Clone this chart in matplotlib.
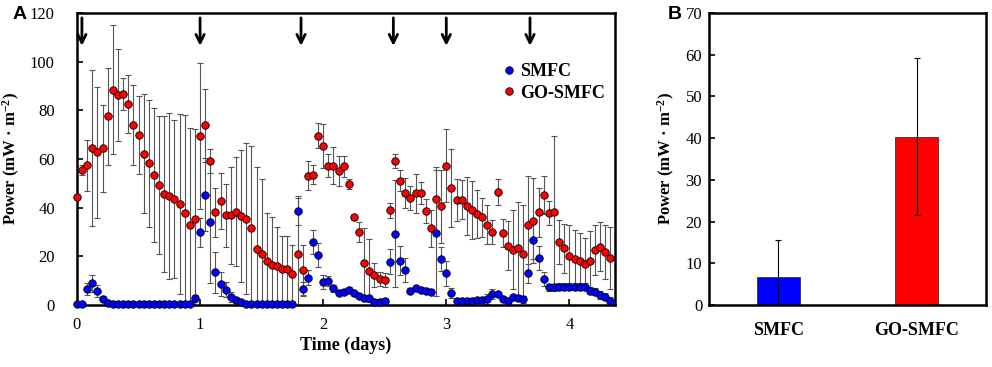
import numpy as np
import matplotlib
matplotlib.use('Agg')
import matplotlib.pyplot as plt

plt.rcParams['font.family'] = 'Liberation Serif'
plt.rcParams['mathtext.fontset'] = 'custom'
plt.rcParams['mathtext.rm'] = 'Liberation Serif:bold'
plt.rcParams['mathtext.bf'] = 'Liberation Serif:bold'
plt.rcParams['mathtext.default'] = 'bf'

# hourly readings, time in hours from start
go_smfc = [44.5, 55.5, 57.5, 64.4, 62.7, 64.4, 77.5, 88.5, 86.3, 86.6,
           82.6, 74.0, 70.0, 62.2, 58.2, 53.4, 49.3, 45.5, 44.7, 43.6,
           41.6, 38.0, 32.7, 35.4, 69.4, 73.8, 59.2, 38.1, 42.7, 36.8,
           36.8, 38.4, 36.5, 35.5, 31.8, 23.1, 20.8, 18.0, 16.3, 16.2,
           14.8, 14.8, 12.6, 21.0, 14.3, 53.2, 53.6, 69.6, 65.5, 57.3,
           57.3, 55.1, 57.0, 49.7, 36.0, 29.9, 17.1, 14.1, 12.3, 10.7,
           10.3, 38.9, 59.2, 51.1, 46.0, 44.0, 45.9, 46.0, 38.6, 31.5,
           43.6, 40.6, 57.3, 48.0, 43.2, 43.2, 40.8, 39.0, 37.4, 36.0,
           32.9, 29.9, 46.3, 29.6, 24.4, 22.7, 23.3, 21.0, 32.9, 34.7,
           38.1, 45.2, 37.9, 38.3, 25.8, 23.3, 20.3, 18.9, 18.2, 16.8,
           18.2, 22.7, 24.0, 21.7, 19.2]
go_smfc_err = [0, 2, 10.5, 32, 27, 17.8, 20, 26.5, 19, 6.5,
               12, 16.5, 16, 24.5, 26, 27.6, 28.5, 32, 34, 32.5,
               37, 40, 40, 37, 30, 15, 5, 10, 11.4, 13,
               19.8, 22.4, 27, 31, 33.7, 33.5, 31, 20, 20, 16,
               13.6, 13.6, 12, 23, 10.3, 5.8, 4, 5, 9, 4.7,
               7.7, 6, 4.3, 2, 1, 4, 14.4, 13, 5, 3,
               3, 3, 3, 4.3, 6, 5, 8, 4.6, 5, 7.5,
               13, 15, 15, 16, 8.5, 8, 12, 12, 10, 8,
               8, 5, 5.3, 5.6, 10, 16.3, 19, 20, 20, 17.3,
               10, 8, 5, 31, 9, 10, 12.6, 12, 11.5, 10.6,
               12, 10.2, 10.2, 11, 12.7]
smfc = [0.3, 0.3, 6.6, 9.0, 5.9, 2.5, 1.0, 0.4, 0.4, 0.4,
        0.4, 0.4, 0.4, 0.4, 0.4, 0.4, 0.4, 0.4, 0.4, 0.4,
        0.4, 0.4, 0.5, 2.7, 29.9, 45.2, 34.2, 13.4, 8.6, 6.3,
        3.2, 2.0, 1.2, 0.5, 0.4, 0.4, 0.4, 0.4, 0.4, 0.4,
        0.4, 0.4, 0.5, 38.8, 6.6, 11.2, 26.0, 20.5, 9.5, 10.0,
        6.8, 5.0, 5.5, 6.2, 4.8, 3.7, 2.7, 2.7, 1.4, 1.4,
        1.8, 17.8, 29.2, 18.2, 14.4, 5.9, 6.8, 6.2, 5.9, 5.5,
        29.5, 18.9, 13.0, 4.9, 1.8, 1.8, 1.8, 1.8, 2.0, 2.2,
        2.5, 4.5, 4.5, 2.5, 1.8, 3.2, 3.0, 2.5, 13.0, 26.7,
        19.3, 10.7, 7.3, 7.3, 7.5, 7.5, 7.5, 7.5, 7.5, 7.5,
        5.9, 5.5, 4.1, 3.4, 1.8]
smfc_err = [0, 0, 2.5, 3.5, 2.5, 1, 0.5, 0.3, 0.3, 0.3,
            0.3, 0.3, 0.3, 0.3, 0.3, 0.3, 0.3, 0.3, 0.3, 0.3,
            0.3, 0.3, 0.3, 1.5, 6, 15, 25, 8.5, 5, 3,
            2, 1, 0.5, 0.3, 0.3, 0.3, 0.3, 0.3, 0.3, 0.3,
            0.3, 0.3, 0.3, 6, 3, 3, 5, 5, 3, 2,
            1.5, 1, 1, 1, 1, 1, 1, 1, 1, 1,
            1, 5, 22, 6, 5, 1, 1, 1, 1, 1,
            26, 5, 5, 2, 1, 1, 1, 1, 1, 1,
            2, 2, 1, 1, 1, 1, 1, 1, 4, 8,
            5, 3, 1.5, 1.5, 1.5, 1.5, 1.5, 1.5, 1.5, 1.5,
            1.5, 1.5, 1.5, 1.5, 1.5]
hours = np.arange(len(go_smfc))
days = hours / 24.0

# feeding times (days), marked with arrows
arrow_days = [0.04, 1.0, 1.82, 2.57, 3.0, 3.68]

# panel B averages
groups = ['SMFC', 'GO-SMFC']
avg_power = [6.7, 40.3]
avg_err = [8.9, 18.8]

fig = plt.figure(figsize=(9.92, 3.67), dpi=100)
ax = fig.add_axes([0.0776, 0.169, 0.5423, 0.7956])
ax2 = fig.add_axes([0.7148, 0.169, 0.279, 0.7956])

ebkw = dict(fmt='none', ecolor='#555555', elinewidth=0.8, capsize=2, capthick=0.8)
ax.errorbar(days, go_smfc, yerr=go_smfc_err, zorder=2, **ebkw)
ax.errorbar(days, smfc, yerr=smfc_err, zorder=2, **ebkw)
ax.plot(days, go_smfc, 'o', color='#FF0000', mec='black', mew=0.6, ms=5.4,
        label='GO-SMFC', zorder=3, clip_on=False)
ax.plot(days, smfc, 'o', color='#0000FF', mec='black', mew=0.6, ms=5.4,
        label='SMFC', zorder=4, clip_on=False)

for d in arrow_days:
    ax.annotate('', xy=(d, 106.5), xytext=(d, 118),
                arrowprops=dict(arrowstyle='->', lw=2, color='black',
                                mutation_scale=15, shrinkA=0, shrinkB=0))

ax.set_xlim(0, 4.37)
ax.set_ylim(0, 120)
ax.set_xticks([0, 1, 2, 3, 4])
ax.set_yticks(np.arange(0, 121, 20))
ax.tick_params(direction='in', labelsize=12, width=1.2, length=4, pad=9)
ax.tick_params(axis='y', pad=16)
for s in ax.spines.values():
    s.set_linewidth(1.8)
ax.set_xlabel('Time (days)', fontsize=13, fontweight='bold', labelpad=2)
ax.set_ylabel('Power (mW · m$^{-2}$)', fontsize=12, fontweight='bold', labelpad=6)

h, l = ax.get_legend_handles_labels()
ax.legend([h[1], h[0]], [l[1], l[0]], loc='center', bbox_to_anchor=(0.885, 0.762),
          frameon=False, handlelength=0.8, handletextpad=0.2, labelspacing=0.25,
          borderpad=0, prop={'family': 'Liberation Serif', 'weight': 'bold', 'size': 13})

x2 = np.arange(len(groups))
ax2.bar(x2, avg_power, width=0.31, color=['#0000FF', '#FF0000'],
        edgecolor='#333333', linewidth=0.6, zorder=2)
ax2.errorbar(x2, avg_power, yerr=avg_err, fmt='none', ecolor='black',
             elinewidth=0.8, capsize=2.5, capthick=0.8, zorder=3)
ax2.set_xlim(-0.5, 1.5)
ax2.set_ylim(0, 70)
ax2.set_yticks(np.arange(0, 71, 10))
ax2.set_xticks(x2)
ax2.set_xticklabels(groups, fontsize=13, fontweight='bold')
ax2.tick_params(axis='x', length=0, pad=12)
ax2.tick_params(axis='y', direction='in', labelsize=12, width=1.2, length=4, pad=5)
for s in ax2.spines.values():
    s.set_linewidth(1.8)
ax2.set_ylabel('Power (mW · m$^{-2}$)', fontsize=12, fontweight='bold', labelpad=6)

fig.text(0.013, 0.96, 'A', fontsize=14, fontweight='bold', family='Liberation Sans',
         va='center', ha='left')
fig.text(0.673, 0.96, 'B', fontsize=14, fontweight='bold', family='Liberation Sans',
         va='center', ha='left')

fig.savefig('out.png', dpi=100)
